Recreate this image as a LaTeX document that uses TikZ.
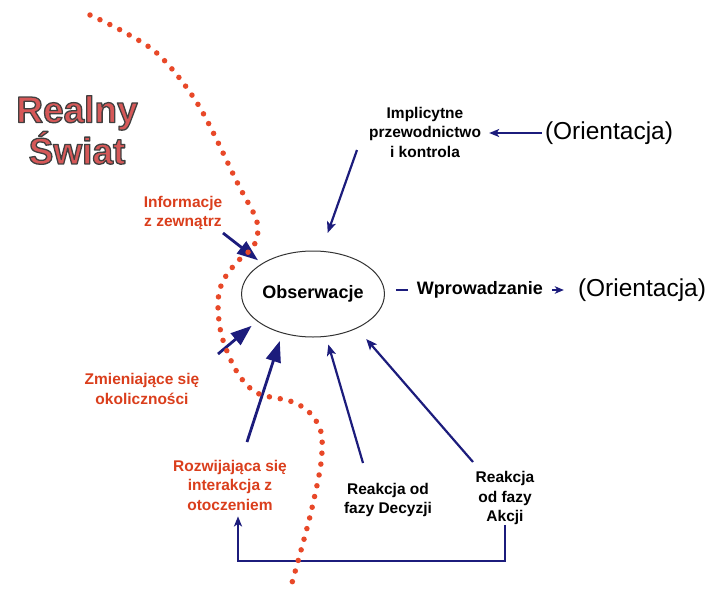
\documentclass[tikz,border=0pt]{standalone}
\usepackage{fontspec}
\setmainfont{Liberation Sans}
\usetikzlibrary{arrows.meta,shapes.geometric}
\definecolor{navy}{RGB}{28,28,124}
\definecolor{dotred}{RGB}{232,72,40}
\definecolor{lblred}{RGB}{218,62,28}
\definecolor{bigred}{RGB}{214,88,88}
\newcommand\strokedtext[1]{\special{pdf:literal direct 0.25 0.25 0.25 RG 1.3 w 1 j 2 Tr}#1\special{pdf:literal direct 0 Tr}}
\begin{document}
\begin{tikzpicture}[x=1pt,y=-1pt,
  lbl/.style={font=\fontsize{15.5}{19.5}\selectfont\bfseries, align=center, inner sep=2pt},
  redlbl/.style={lbl, text=lblred},
  orient/.style={font=\fontsize{24.5}{28}\selectfont, inner sep=3pt},
  thinarr/.style={draw=navy, line width=2.2pt, -{Stealth[length=11pt,width=9pt,inset=2.5pt]}},
  boldarr/.style={draw=navy, line width=2.8pt, -{Triangle[length=21pt,width=15pt]}},
  dotline/.style={draw=dotred, line width=5.5pt, line cap=round, dash pattern=on 0pt off 11pt}
]
\useasboundingbox (0,0) rectangle (713,590);

% title
\node[font=\fontsize{37}{31}\selectfont\bfseries, text=bigred, align=center, inner sep=0pt]
  (title) at (77,130) {\strokedtext{Realny}\\\strokedtext{Świat}};

% central ellipse
\node[draw=black!80, line width=1pt, ellipse, minimum width=136pt, minimum height=86pt,
  font=\fontsize{18}{20}\selectfont\bfseries, inner sep=0pt] (obs) at (313,294) {Obserwacje};

% labels
\node[lbl] (impl) at (425,132) {Implicytne\\przewodnictwo\\i kontrola};
\node[orient] (or1) at (609,133) {(Orientacja)};
\node[orient] (or2) at (642,290) {(Orientacja)};
\node[redlbl] (info) at (183,213) {Informacje\\z zewnątrz};
\node[redlbl] (zmien) at (142,389) {Zmieniające się\\okoliczności};
\node[redlbl] (rozw) at (230,485) {Rozwijająca się\\interakcja z\\otoczeniem};
\node[lbl] (decy) at (388,500) {Reakcja od\\fazy Decyzji};
\node[lbl] (akcji) at (505,498) {Reakcja\\od fazy\\Akcji};

% free ends
\coordinate (sinfo) at (223,233);
\coordinate (simpl) at (357,150);
\coordinate (szmien) at (218,354);
\coordinate (srozw) at (247,442);
\coordinate (sdecy) at (363,463);
\coordinate (sakcji) at (473,462);
\coordinate (bot) at (505,561);

% arrows into ellipse
\draw[boldarr, shorten >=5pt] (sinfo) -- (obs.149.4);
\draw[thinarr, shorten >=19pt] (simpl) -- (obs.79.9);
\draw[boldarr, shorten >=7pt] (szmien) -- (obs.206.6);
\draw[boldarr, shorten >=8pt] (srozw) -- (obs.232.9);
\draw[thinarr, shorten >=8pt] (sdecy) -- (obs.287.7);
\draw[thinarr, shorten >=14pt] (sakcji) -- (obs.322.6);

% orientation arrows
\draw[thinarr, -{Stealth[length=10pt,width=8pt,inset=2.5pt]}, shorten >=6pt] (or1.west) -- (impl.east |- or1.west);
\draw[thinarr, -{Stealth[length=9pt,width=7.5pt,inset=2.5pt]}, shorten <=11pt, shorten >=11pt]
  (obs.east |- or2.west) -- (or2.west)
  node[midway, fill=white, inner xsep=9pt, inner ysep=2pt, text=black,
       font=\fontsize{18}{20}\selectfont\bfseries] (wpr) {Wprowadzanie};

% feedback loop
\draw[thinarr, -{Stealth[length=10pt,width=8pt,inset=2.5pt]}, shorten >=4pt]
  ([yshift=2pt]akcji.south) -- (bot) -| ([xshift=8pt]rozw.south);

% dotted boundary
\draw[dotline] plot[smooth, tension=0.55] coordinates {
  (90,15) (124,32) (160,56) (199,106) (238,184) (254,214) (258,230) (253,247)
  (236,263) (222,283) (218,305) (222,337) (237,372) (257,393) (290,401)
  (309,412) (321,432) (321,463) (312,508) (303,543) (290,590)};
\end{tikzpicture}
\end{document}
